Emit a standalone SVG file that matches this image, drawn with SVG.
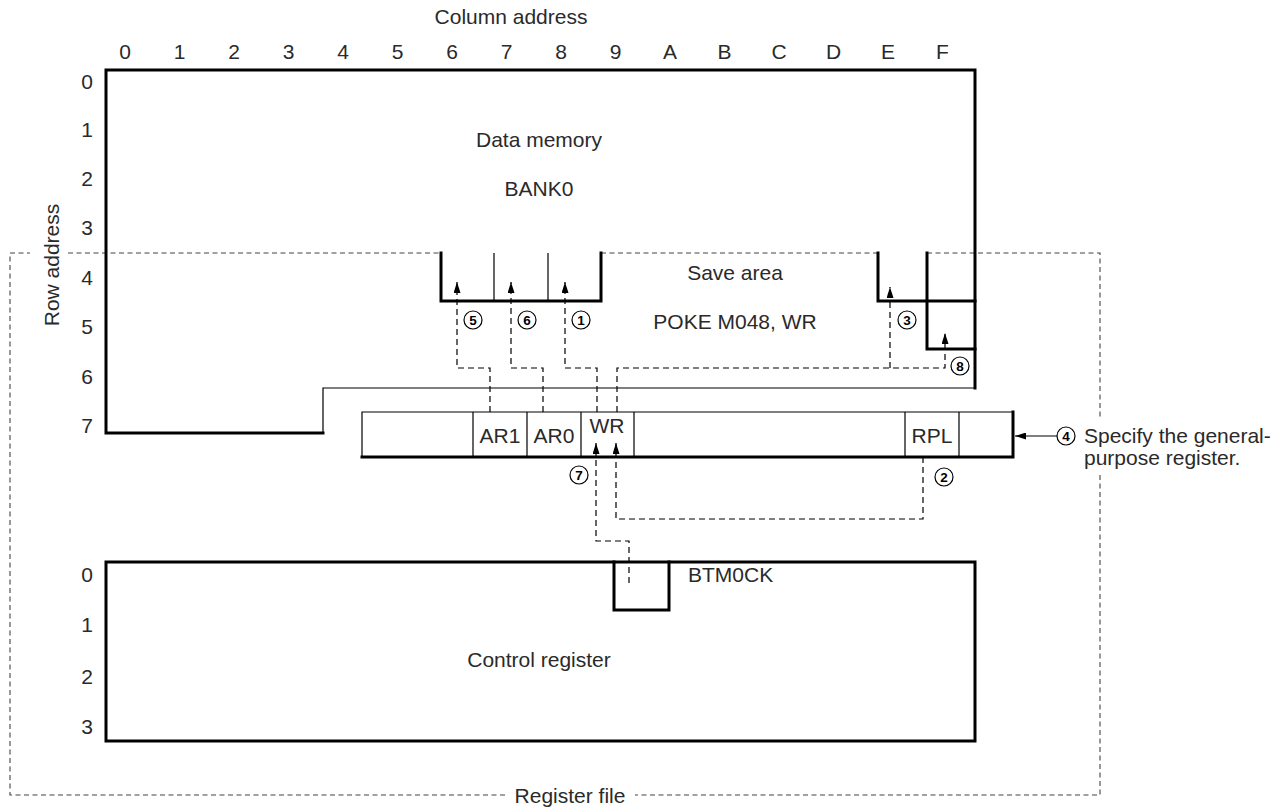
<svg xmlns="http://www.w3.org/2000/svg" width="1287" height="809" viewBox="0 0 1287 809">
<style>
text{font-family:"Liberation Sans",Arial,sans-serif;fill:#2a2a2a;font-size:21px}
.c{text-anchor:middle}
.thick{fill:none;stroke:#000;stroke-width:3;stroke-linecap:square}
.thin{fill:none;stroke:#000;stroke-width:1.2}
.dash{fill:none;stroke:#000;stroke-width:1.2;stroke-dasharray:6 4}
.frame{fill:none;stroke:#444;stroke-width:1.1;stroke-dasharray:5 3.5}
.num circle{fill:#fff;stroke:#000;stroke-width:1.2}
.num text{font-size:13.5px;font-weight:bold;text-anchor:middle;fill:#000}
</style>
<defs>
<marker id="ah" markerUnits="userSpaceOnUse" markerWidth="12" markerHeight="7" refX="11" refY="3.5" orient="auto">
<path d="M0,0 L11,3.5 L0,7 z" fill="#000"/>
</marker>
</defs>
<rect width="1287" height="809" fill="#fff"/>

<g id="axes">
<text class="c" x="511" y="24">Column address</text>
<g>
<text class="c" x="125" y="59">0</text><text class="c" x="179.5" y="59">1</text><text class="c" x="234" y="59">2</text><text class="c" x="288.5" y="59">3</text>
<text class="c" x="343" y="59">4</text><text class="c" x="397.5" y="59">5</text><text class="c" x="452" y="59">6</text><text class="c" x="506.5" y="59">7</text>
<text class="c" x="561" y="59">8</text><text class="c" x="615.5" y="59">9</text><text class="c" x="670" y="59">A</text><text class="c" x="724.5" y="59">B</text>
<text class="c" x="779" y="59">C</text><text class="c" x="833.5" y="59">D</text><text class="c" x="888" y="59">E</text><text class="c" x="942.5" y="59">F</text>
</g>
<text class="c" x="87" y="89">0</text><text class="c" x="87" y="137">1</text><text class="c" x="87" y="186">2</text><text class="c" x="87" y="235">3</text>
<text class="c" x="87" y="285">4</text><text class="c" x="87" y="334">5</text><text class="c" x="87" y="384">6</text><text class="c" x="87" y="433">7</text>
<text class="c" x="87" y="582">0</text><text class="c" x="87" y="632">1</text><text class="c" x="87" y="684">2</text><text class="c" x="87" y="734">3</text>
<text class="c" transform="translate(59,265) rotate(-90)">Row address</text>
</g>

<g id="register-file">
<path class="frame" d="M10,253 H30 M68,253 H441 M601,253 H878 M927,253 H1100 V420 M1100,475 V795 H635 M505,795 H10 V253"/>
<text class="c" x="570" y="803">Register file</text>
</g>

<g id="data-memory">
<path class="thick" d="M323,433 H106 V70 H975 V388"/>
<path class="thin" d="M323,433 V388 H975"/>
<text class="c" x="539" y="147">Data memory</text>
<text class="c" x="539" y="196">BANK0</text>
</g>

<g id="save-area">
<path class="thick" d="M441,253 V301 H601 V253"/>
<path class="thin" d="M494,253 V301 M548,253 V301"/>
<path class="thick" d="M878,253 V301 H975 M927,253 V349 H975"/>
<text class="c" x="735" y="280">Save area</text>
<text class="c" x="735" y="329">POKE M048, WR</text>
</g>

<g id="register-bar">
<path class="thin" d="M1013,412 H362 V457"/>
<path class="thick" d="M362,457 H1013 V412"/>
<path class="thin" d="M473,412 V457 M527,412 V457 M581,412 V457 M634,412 V457 M905,412 V457 M959,412 V457"/>
<text class="c" x="500" y="443">AR1</text>
<text class="c" x="554" y="443">AR0</text>
<text class="c" x="607" y="433">WR</text>
<text class="c" x="932" y="443">RPL</text>
</g>

<g id="control-register">
<path class="thick" d="M106,562 H975 V741 H106 Z"/>
<path class="thick" d="M614,562 V610 H669 V562"/>
<text x="688" y="582">BTM0CK</text>
<text class="c" x="539" y="667">Control register</text>
</g>

<g id="connectors">
<path class="dash" d="M490,412 V368 H457 V282" marker-end="url(#ah)"/>
<path class="dash" d="M543,412 V368 H511 V282" marker-end="url(#ah)"/>
<path class="dash" d="M597,412 V368 H565 V282" marker-end="url(#ah)"/>
<path class="dash" d="M617,412 V368 H945 V333" marker-end="url(#ah)"/>
<path class="dash" d="M890,368 V287" marker-end="url(#ah)"/>
<path class="dash" d="M629,583 V541 H596 V443" marker-end="url(#ah)"/>
<path class="dash" d="M923,457 V519 H616 V443" marker-end="url(#ah)"/>
<path class="thin" d="M1057,436 H1015" marker-end="url(#ah)"/>
</g>

<g id="labels">
<g class="num"><circle cx="473" cy="320" r="9"/><text x="473" y="325">5</text></g>
<g class="num"><circle cx="527" cy="320" r="9"/><text x="527" y="325">6</text></g>
<g class="num"><circle cx="581" cy="320" r="9"/><text x="581" y="325">1</text></g>
<g class="num"><circle cx="907" cy="320" r="9"/><text x="907" y="325">3</text></g>
<g class="num"><circle cx="960" cy="366" r="9"/><text x="960" y="371">8</text></g>
<g class="num"><circle cx="579" cy="475" r="9"/><text x="579" y="480">7</text></g>
<g class="num"><circle cx="944" cy="477" r="9"/><text x="944" y="482">2</text></g>
<g class="num"><circle cx="1066" cy="436" r="9"/><text x="1066" y="441">4</text></g>
<text x="1084" y="443">Specify the general-</text>
<text x="1084" y="465">purpose register.</text>
</g>
</svg>
